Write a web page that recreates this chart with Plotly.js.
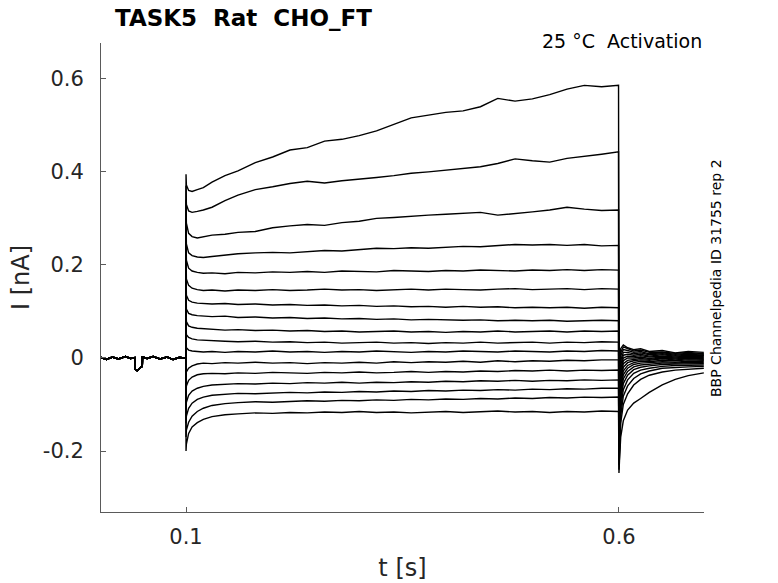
<!DOCTYPE html>
<html>
<head>
<meta charset="utf-8">
<script src="https://cdn.plot.ly/plotly-3.0.1.min.js"></script>
<style>
  body { margin: 0; background: #fff; }
  #plot { width: 778px; height: 583px; }
</style>
</head>
<body>
<div id="plot"></div>
<script>
// time points (s)
var preT = [0.002, 0.008, 0.015, 0.022, 0.03, 0.036, 0.0408, 0.041, 0.0435, 0.046, 0.0485, 0.0495, 0.0497, 0.055, 0.062, 0.07, 0.078, 0.085, 0.092, 0.0998];
var stepT = [0.1, 0.1004, 0.103, 0.107, 0.113, 0.12, 0.13, 0.145, 0.16, 0.18, 0.2, 0.22, 0.24, 0.26, 0.28, 0.3, 0.32, 0.34, 0.36, 0.38, 0.4, 0.42, 0.44, 0.46, 0.48, 0.5, 0.52, 0.54, 0.56, 0.58, 0.5995];
var tailT = [0.6, 0.6006, 0.602, 0.605, 0.61, 0.617, 0.625, 0.635, 0.65, 0.665, 0.68, 0.698];

// holding current before the step (nA), same in every sweep
var preI = [0.001, -0.003, 0.002, -0.002, 0.003, -0.001, 0.001, -0.024, -0.027, -0.022, -0.019, -0.018, 0.002, -0.001, 0.003, -0.002, 0.002, -0.003, 0.001, 0.0];

// current during the step, one row per sweep (nA)
var stepI = [
  [0.395, 0.372, 0.36, 0.358, 0.362, 0.366, 0.378, 0.392, 0.402, 0.420, 0.432, 0.447, 0.452, 0.466, 0.470, 0.478, 0.488, 0.502, 0.516, 0.522, 0.528, 0.531, 0.540, 0.558, 0.552, 0.557, 0.566, 0.578, 0.586, 0.583, 0.586],
  [0.37, 0.33, 0.316, 0.313, 0.315, 0.318, 0.324, 0.338, 0.350, 0.362, 0.368, 0.375, 0.380, 0.376, 0.381, 0.384, 0.388, 0.392, 0.397, 0.400, 0.404, 0.407, 0.411, 0.418, 0.428, 0.424, 0.421, 0.429, 0.433, 0.438, 0.443],
  [0.34, 0.29, 0.268, 0.261, 0.258, 0.260, 0.264, 0.266, 0.270, 0.272, 0.280, 0.284, 0.287, 0.285, 0.291, 0.294, 0.300, 0.302, 0.305, 0.307, 0.309, 0.311, 0.313, 0.307, 0.310, 0.314, 0.318, 0.324, 0.320, 0.317, 0.318],
  [0.30, 0.245, 0.226, 0.220, 0.217, 0.216, 0.218, 0.221, 0.224, 0.226, 0.227, 0.226, 0.229, 0.231, 0.230, 0.233, 0.236, 0.235, 0.237, 0.236, 0.238, 0.240, 0.239, 0.241, 0.244, 0.243, 0.244, 0.242, 0.244, 0.241, 0.242],
  [0.27, 0.21, 0.193, 0.187, 0.184, 0.182, 0.183, 0.181, 0.184, 0.183, 0.185, 0.184, 0.186, 0.184, 0.187, 0.186, 0.185, 0.188, 0.187, 0.186, 0.188, 0.187, 0.189, 0.188, 0.187, 0.189, 0.188, 0.190, 0.188, 0.190, 0.189],
  [0.23, 0.17, 0.156, 0.150, 0.147, 0.145, 0.146, 0.144, 0.146, 0.145, 0.147, 0.145, 0.146, 0.148, 0.146, 0.147, 0.145, 0.147, 0.148, 0.146, 0.148, 0.147, 0.146, 0.148, 0.149, 0.147, 0.148, 0.149, 0.147, 0.149, 0.148],
  [0.19, 0.135, 0.124, 0.120, 0.118, 0.117, 0.116, 0.117, 0.115, 0.116, 0.114, 0.115, 0.113, 0.114, 0.112, 0.113, 0.111, 0.112, 0.110, 0.111, 0.109, 0.111, 0.109, 0.110, 0.108, 0.109, 0.108, 0.109, 0.107, 0.109, 0.108],
  [0.16, 0.105, 0.096, 0.093, 0.091, 0.090, 0.089, 0.090, 0.087, 0.088, 0.086, 0.087, 0.085, 0.086, 0.084, 0.085, 0.083, 0.084, 0.082, 0.083, 0.082, 0.081, 0.082, 0.080, 0.081, 0.080, 0.081, 0.079, 0.080, 0.081, 0.080],
  [0.12, 0.078, 0.069, 0.066, 0.064, 0.063, 0.062, 0.060, 0.061, 0.059, 0.060, 0.058, 0.059, 0.057, 0.058, 0.056, 0.057, 0.058, 0.056, 0.057, 0.055, 0.057, 0.056, 0.058, 0.056, 0.057, 0.058, 0.056, 0.058, 0.057, 0.058],
  [0.08, 0.05, 0.044, 0.041, 0.039, 0.038, 0.037, 0.036, 0.035, 0.036, 0.034, 0.035, 0.033, 0.034, 0.032, 0.033, 0.034, 0.032, 0.033, 0.031, 0.033, 0.032, 0.034, 0.032, 0.033, 0.034, 0.032, 0.034, 0.033, 0.035, 0.034],
  [0.04, 0.022, 0.017, 0.015, 0.014, 0.013, 0.014, 0.012, 0.014, 0.013, 0.015, 0.013, 0.014, 0.012, 0.014, 0.013, 0.015, 0.013, 0.012, 0.014, 0.013, 0.015, 0.014, 0.013, 0.015, 0.014, 0.013, 0.015, 0.014, 0.016, 0.015],
  [-0.04, -0.03, -0.022, -0.017, -0.013, -0.011, -0.012, -0.010, -0.011, -0.009, -0.011, -0.010, -0.012, -0.010, -0.011, -0.009, -0.011, -0.008, -0.010, -0.008, -0.009, -0.007, -0.009, -0.006, -0.008, -0.006, -0.007, -0.005, -0.006, -0.004, -0.004],
  [-0.08, -0.06, -0.048, -0.041, -0.036, -0.034, -0.033, -0.034, -0.032, -0.033, -0.031, -0.032, -0.033, -0.031, -0.032, -0.030, -0.032, -0.031, -0.029, -0.031, -0.029, -0.030, -0.028, -0.029, -0.027, -0.028, -0.026, -0.028, -0.026, -0.027, -0.026],
  [-0.11, -0.095, -0.08, -0.071, -0.065, -0.061, -0.058, -0.057, -0.055, -0.056, -0.054, -0.055, -0.053, -0.054, -0.052, -0.054, -0.052, -0.053, -0.051, -0.052, -0.050, -0.051, -0.049, -0.050, -0.048, -0.050, -0.048, -0.049, -0.047, -0.048, -0.047],
  [-0.14, -0.125, -0.108, -0.097, -0.089, -0.084, -0.080, -0.078, -0.076, -0.077, -0.075, -0.074, -0.075, -0.073, -0.074, -0.072, -0.073, -0.071, -0.072, -0.070, -0.071, -0.069, -0.070, -0.068, -0.069, -0.067, -0.068, -0.066, -0.067, -0.065, -0.065],
  [-0.17, -0.155, -0.138, -0.125, -0.115, -0.108, -0.102, -0.098, -0.096, -0.094, -0.095, -0.093, -0.092, -0.093, -0.091, -0.092, -0.090, -0.091, -0.089, -0.090, -0.088, -0.089, -0.087, -0.088, -0.086, -0.087, -0.085, -0.086, -0.084, -0.085, -0.084],
  [-0.20, -0.185, -0.162, -0.148, -0.139, -0.132, -0.126, -0.122, -0.120, -0.118, -0.119, -0.117, -0.118, -0.116, -0.117, -0.115, -0.117, -0.116, -0.118, -0.116, -0.115, -0.117, -0.116, -0.114, -0.116, -0.115, -0.117, -0.115, -0.116, -0.114, -0.115]
];

// tail current after the step, one row per sweep (nA)
var tailI = [
  [-0.15, -0.06, 0.02, 0.028, 0.022, 0.018, 0.02, 0.014, 0.016, 0.011, 0.014, 0.012],
  [-0.16, -0.07, 0.012, 0.024, 0.02, 0.015, 0.017, 0.012, 0.013, 0.010, 0.012, 0.009],
  [-0.17, -0.08, 0.005, 0.018, 0.016, 0.012, 0.014, 0.009, 0.011, 0.008, 0.01, 0.008],
  [-0.17, -0.09, -0.005, 0.012, 0.012, 0.009, 0.011, 0.007, 0.009, 0.006, 0.008, 0.006],
  [-0.18, -0.10, -0.015, 0.006, 0.008, 0.006, 0.008, 0.004, 0.007, 0.004, 0.006, 0.005],
  [-0.18, -0.11, -0.025, 0.0, 0.004, 0.003, 0.005, 0.002, 0.004, 0.002, 0.004, 0.003],
  [-0.19, -0.12, -0.035, -0.006, 0.0, 0.0, 0.002, -0.001, 0.002, 0.0, 0.002, 0.001],
  [-0.19, -0.13, -0.045, -0.012, -0.005, -0.003, -0.001, -0.003, 0.0, -0.002, 0.0, -0.001],
  [-0.20, -0.14, -0.055, -0.02, -0.01, -0.006, -0.004, -0.005, -0.002, -0.004, -0.002, -0.003],
  [-0.20, -0.15, -0.065, -0.028, -0.016, -0.01, -0.007, -0.008, -0.005, -0.006, -0.004, -0.005],
  [-0.21, -0.16, -0.075, -0.036, -0.022, -0.014, -0.011, -0.01, -0.008, -0.009, -0.007, -0.007],
  [-0.21, -0.165, -0.085, -0.045, -0.029, -0.019, -0.015, -0.013, -0.011, -0.011, -0.009, -0.01],
  [-0.22, -0.175, -0.095, -0.055, -0.037, -0.025, -0.02, -0.017, -0.014, -0.013, -0.012, -0.012],
  [-0.22, -0.185, -0.11, -0.068, -0.047, -0.033, -0.026, -0.022, -0.018, -0.016, -0.015, -0.015],
  [-0.23, -0.195, -0.125, -0.082, -0.06, -0.044, -0.034, -0.028, -0.022, -0.02, -0.019, -0.018],
  [-0.24, -0.205, -0.14, -0.1, -0.077, -0.058, -0.046, -0.037, -0.03, -0.026, -0.024, -0.022],
  [-0.247, -0.22, -0.17, -0.135, -0.112, -0.097, -0.087, -0.074, -0.058, -0.046, -0.038, -0.032]
];

var yTicks = [-0.2, 0, 0.2, 0.4, 0.6];
var yTickText = ['-0.2', '0', '0.2', '0.4', '0.6'];
var xTicks = [0.1, 0.6];
var xTickText = ['0.1', '0.6'];

var data = [];
for (var i = 0; i < stepI.length; i++) {
    data.push({
        x: preT.concat(stepT, tailT),
        y: preI.concat(stepI[i], tailI[i]),
        type: 'scatter',
        mode: 'lines',
        line: {color: '#000', width: 1.4},
        hoverinfo: 'skip'
    });
}

var axisColor = '#5a5a5a';
var layout = {
    width: 778,
    height: 583,
    margin: {l: 101, r: 74, t: 43, b: 71},
    paper_bgcolor: '#fff',
    plot_bgcolor: '#fff',
    showlegend: false,
    font: {family: 'DejaVu Sans', color: '#262626'},
    title: {
        text: '<b>TASK5\u00a0 Rat\u00a0 CHO_FT</b>',
        font: {size: 23, family: 'DejaVu Sans', color: '#000'},
        xref: 'container', x: 115 / 778, xanchor: 'left',
        yref: 'container', y: 1 - 18 / 583, yanchor: 'middle'
    },
    xaxis: {
        range: [0.0018, 0.6982],
        tickvals: xTicks,
        ticktext: xTickText,
        ticks: 'inside', ticklen: 5, tickcolor: axisColor,
        showline: true, linecolor: axisColor, linewidth: 1,
        showgrid: false, zeroline: false,
        tickfont: {size: 21, color: '#262626'},
        ticklabelstandoff: 6,
        title: {text: 't [s]', font: {size: 24, color: '#262626'}, standoff: 10}
    },
    yaxis: {
        range: [-0.331, 0.677],
        tickvals: yTicks,
        ticktext: yTickText,
        ticks: 'inside', ticklen: 5, tickcolor: axisColor,
        showline: true, linecolor: axisColor, linewidth: 1,
        showgrid: false, zeroline: false,
        tickfont: {size: 21, color: '#262626'},
        ticklabelstandoff: 12,
        title: {text: 'I [nA]', font: {size: 24, color: '#262626'}, standoff: 6}
    },
    annotations: [
        {
            text: '25 °C\u00a0 Activation',
            xref: 'paper', yref: 'paper', x: 1, y: (512 - 41) / 469,
            xanchor: 'right', yanchor: 'middle', showarrow: false,
            font: {size: 19, color: '#000'}
        },
        {
            text: 'BBP Channelpedia ID 31755 rep 2',
            xref: 'paper', yref: 'paper', x: (716 - 101) / 603, y: (512 - 278) / 469,
            xanchor: 'center', yanchor: 'middle', textangle: -90, showarrow: false,
            font: {size: 14, color: '#000'}
        }
    ]
};

Plotly.newPlot('plot', data, layout, {staticPlot: true});
</script>
</body>
</html>
